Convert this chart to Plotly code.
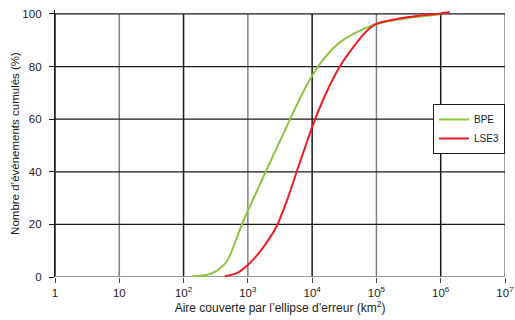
import plotly.graph_objects as go

# Data (area in km², cumulative %)
bpe_area = [138, 200, 257, 343, 468, 575, 724, 912, 1259, 1778, 2512, 3981, 6310,
            10000, 15850, 26900, 49000, 100000, 316000, 1000000]
bpe_pct = [0.3, 0.6, 1.1, 2.7, 5.8, 10.5, 17.0, 23.0, 30.5, 38.5, 46.5, 57.0, 67.4,
           76.5, 83.5, 89.2, 93.0, 96.2, 98.5, 99.9]

lse3_area = [437, 661, 1000, 1585, 2786, 4266, 5754, 7943, 10000, 15850,
             26900, 49000, 70800, 100000, 316000, 1000000, 1380000]
lse3_pct = [0.3, 1.4, 4.6, 10.0, 19.2, 30.6, 40.0, 50.0, 57.0, 69.0,
            80.0, 89.0, 93.5, 96.2, 98.8, 100.2, 100.7]

x_tickvals = [1, 10, 100, 1000, 10000, 100000, 1000000, 10000000]
x_ticktext = ["1", "10", "10<sup>2</sup>", "10<sup>3</sup>", "10<sup>4</sup>",
              "10<sup>5</sup>", "10<sup>6</sup>", "10<sup>7</sup>"]
y_tickvals = [0, 20, 40, 60, 80, 100]

GREEN = "#8cc63f"
RED = "#ed1c24"
DARK = "#1a1a1a"
GRAY = "#808080"
FONT = "Liberation Sans, Arial, sans-serif"

fig = go.Figure()
fig.add_trace(go.Scatter(x=bpe_area, y=bpe_pct, mode="lines", name="BPE",
                         line=dict(color=GREEN, width=2, shape="spline", smoothing=0.7)))
fig.add_trace(go.Scatter(x=lse3_area, y=lse3_pct, mode="lines", name="LSE3",
                         line=dict(color=RED, width=2, shape="spline", smoothing=0.7)))

shapes = []
for i, xv in enumerate(x_tickvals):
    col = DARK if i % 2 == 0 else GRAY
    shapes.append(dict(type="line", xref="x", yref="y", x0=xv, x1=xv,
                       y0=y_tickvals[0], y1=y_tickvals[-1],
                       line=dict(color=col, width=1.5), layer="below"))
for yv in y_tickvals:
    col = GRAY if yv == 0 else DARK
    shapes.append(dict(type="line", xref="x", yref="y", x0=x_tickvals[0], x1=x_tickvals[-1],
                       y0=yv, y1=yv, line=dict(color=col, width=1.3), layer="below"))

fig.update_layout(
    width=515, height=320,
    margin=dict(l=55, r=10, t=10, b=43),
    paper_bgcolor="white", plot_bgcolor="white",
    font=dict(family=FONT, size=11.5, color="#222"),
    shapes=shapes,
    showlegend=True,
    legend=dict(x=0.84, y=0.648, xanchor="left", yanchor="top",
                bgcolor="white", bordercolor=DARK, borderwidth=1,
                font=dict(size=10), itemwidth=30, tracegroupgap=0),
    xaxis=dict(type="log", range=[0, 7], tickvals=x_tickvals, ticktext=x_ticktext,
               showgrid=False, zeroline=False, showline=False, automargin=False,
               ticks="outside", ticklen=5, tickcolor="#444", tickwidth=1.3,
               title=dict(text="Aire couverte par l’ellipse d’erreur (km<sup>2</sup>)",
                          font=dict(size=12), standoff=2)),
    yaxis=dict(range=[0, 101.5], tickvals=y_tickvals, showgrid=False, zeroline=False,
               showline=True, linecolor=DARK, linewidth=1.3, automargin=False,
               ticks="outside", ticklen=5, tickcolor=DARK, tickwidth=1.3,
               ticklabelstandoff=5,
               title=dict(text="Nombre d’événements cumulés (%)", font=dict(size=11.5),
                          standoff=0)),
)

fig.write_html("out.html", config={"displayModeBar": False},
               post_script="document.body.style.margin='0';")
